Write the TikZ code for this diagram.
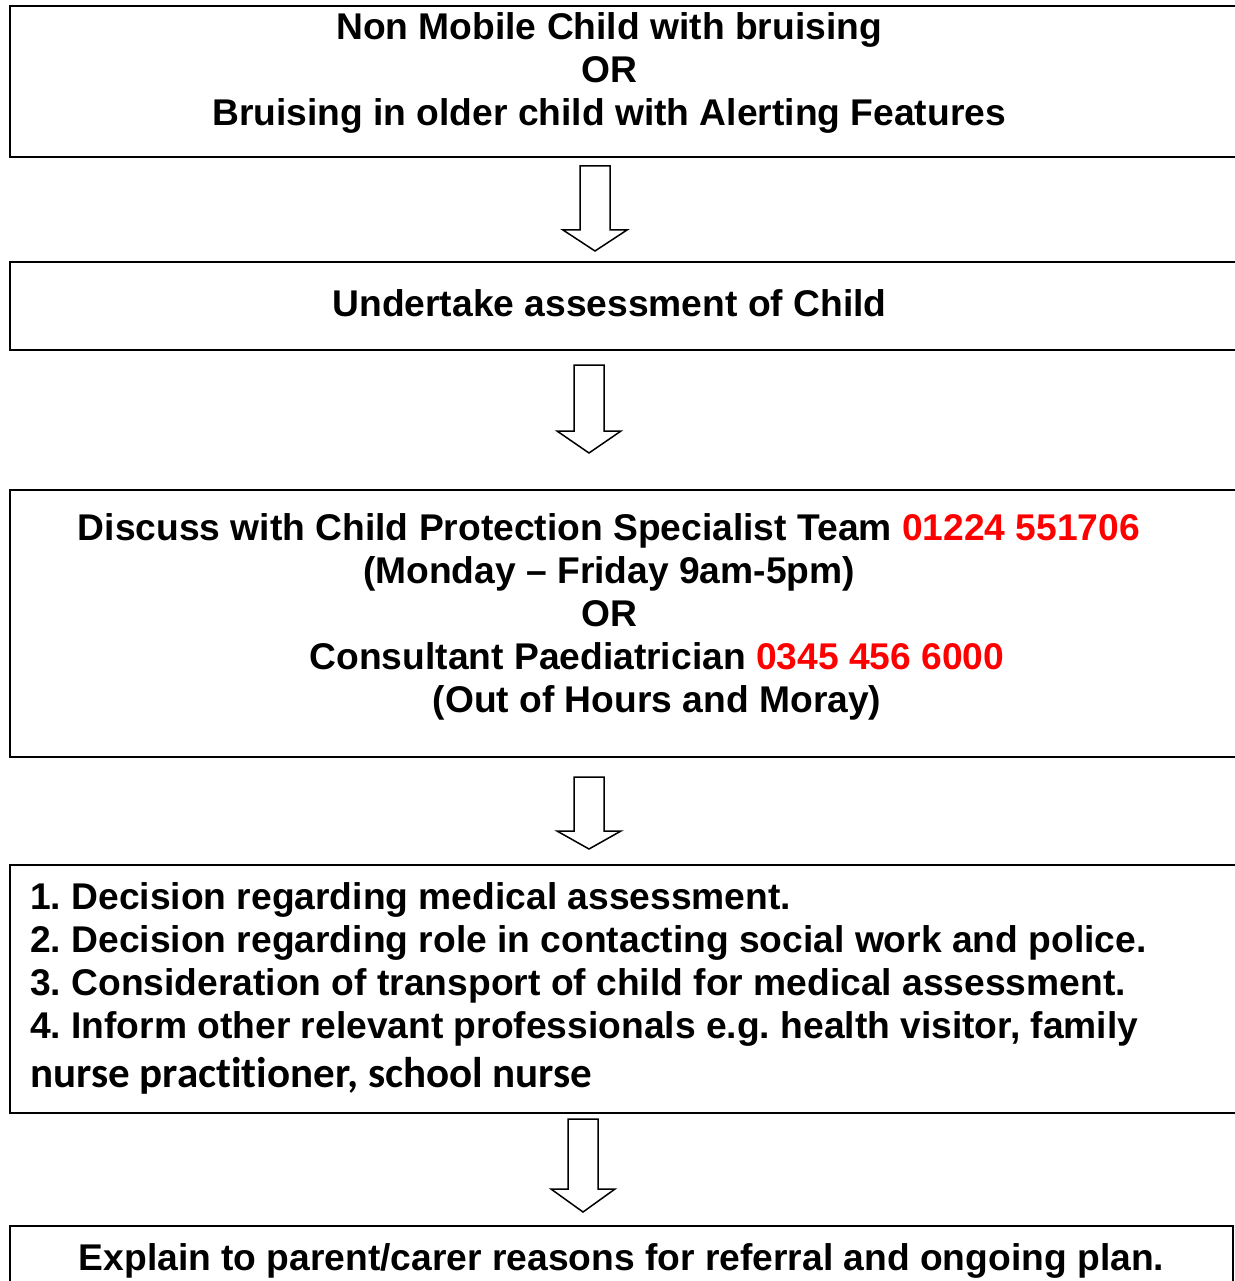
\documentclass[tikz,border=0pt]{standalone}
\usepackage{fontspec}
\setmainfont{Liberation Sans}
\newfontfamily\calfont[Ligatures=NoCommon]{Carlito}
\usepackage{tikz}
\usetikzlibrary{positioning,calc}
\definecolor{PhoneRed}{RGB}{255,0,0}
\tikzset{
	frame/.style={draw=black,line width=2pt,anchor=north west,inner sep=0pt},
	txt/.style={font=\fontsize{37.2}{43}\selectfont\bfseries,inner sep=0pt,anchor=base},
	blockarr/.style={draw=black,fill=white,line width=1.5pt,line join=miter},
}
\newcommand{\phone}[1]{\textcolor{PhoneRed}{#1}}
\frenchspacing

\begin{document}
\begin{tikzpicture}[x=1pt,y=-1pt]
	\useasboundingbox (0,0) rectangle (1234,1281);
	% frames
	\node[frame,minimum width=1300pt,minimum height=151pt] (box1) at (9,5) {};
	\node[frame,minimum width=1300pt,minimum height=88pt] (box2) at (9,261) {};
	\node[frame,minimum width=1300pt,minimum height=267pt] (box3) at (9,489) {};
	\node[frame,minimum width=1300pt,minimum height=248pt] (box4) at (9,864) {};
	\node[frame,minimum width=1223pt,minimum height=120pt] (box5) at (9,1225) {};
	% texts
	\node[txt] (nonmobile) at (609,40) {Non Mobile Child with bruising};
	\node[txt] (or1) at (609,83) {OR};
	\node[txt] (older) at (609,126) {Bruising in older child with Alerting Features};
	\node[txt] (assess) at (609.5,316) {Undertake assessment of Child};
	\node[txt] (cpst) at (609,540) {Discuss with Child Protection Specialist Team \phone{01224 551706}};
	\node[txt] (weekdays) at (609,583) {(Monday -- Friday 9am-5pm)};
	\node[txt] (or2) at (609,626) {OR};
	\node[txt] (paed) at (657,669) {Consultant Paediatrician \phone{0345 456 6000}};
	\node[txt] (ooh) at (657,712) {(Out of Hours and Moray)};
	\node[txt,anchor=base west] (step1) at (30,909) {1. Decision regarding medical assessment.};
	\node[txt,anchor=base west] (step2) at (30,952) {2. Decision regarding role in contacting social work and police.};
	\node[txt,anchor=base west] (step3) at (30,995) {3. Consideration of transport of child for medical assessment.};
	\node[txt,anchor=base west] (step4) at (30,1038) {4. Inform other relevant professionals e.g. health visitor, family};
	\node[inner sep=0pt,anchor=base west,font=\calfont\fontsize{43}{48}\selectfont\bfseries] (step4b) at (30,1087) {nurse practitioner, school nurse};
	\node[txt] (explain) at (621.5,1270) {Explain to parent/carer reasons for referral and ongoing plan.};
	% down arrows between frames
	\foreach \cx/\ytop/\yhead/\ytip in {595/166/230/251,589/365/431/453,589/777/831/849,583/1119/1189/1212}
		\draw[blockarr] (\cx-15,\ytop) -- (\cx+15,\ytop) -- (\cx+15,\yhead) -- (\cx+32,\yhead)
			-- (\cx,\ytip) -- (\cx-32,\yhead) -- (\cx-15,\yhead) -- cycle;
\end{tikzpicture}
\end{document}
